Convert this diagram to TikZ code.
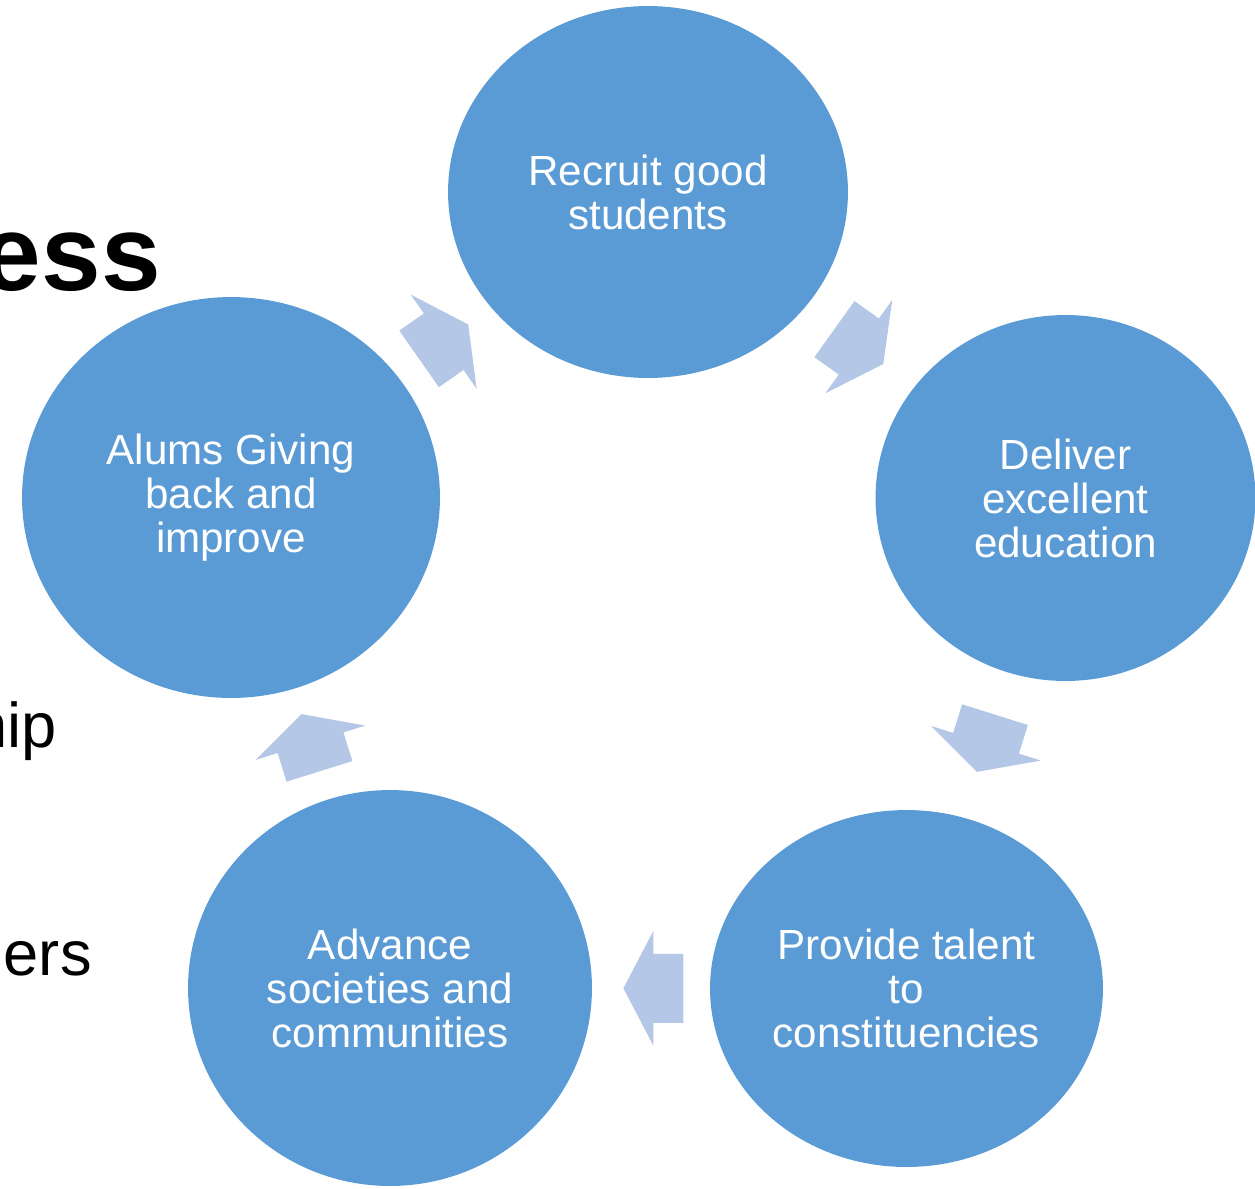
\documentclass[tikz,border=0pt]{standalone}
\usepackage{fontspec}
\setmainfont{Liberation Sans}
\usetikzlibrary{shapes.geometric}
\usetikzlibrary{calc}
\definecolor{stageblue}{HTML}{5B9BD5}
\definecolor{arrowblue}{HTML}{B4C7E7}

\begin{document}
\begin{tikzpicture}[x=0.02cm,y=-0.02cm,
  stagecircle/.style={ellipse,fill=stageblue,draw=none,inner sep=0pt,text=white,align=center,font=\fontsize{24}{25}\selectfont},
  cyclearrow/.style={fill=arrowblue,draw=none},
  cuttext/.style={anchor=base east,inner sep=0pt,text=black}]
\useasboundingbox (0,0) rectangle (1255,1188);
\clip (0,0) rectangle (1255,1188);

% words of the slide cut off at the left border
\node[cuttext,font=\fontsize{61}{61}\selectfont\bfseries] (title) at (161,290) {ess};
\node[cuttext,font=\fontsize{36}{36}\selectfont] (itemA) at (57,747) {hip};
\node[cuttext,font=\fontsize{36}{36}\selectfont] (itemB) at (92,975) {hers};

% the five stages
\node[stagecircle,minimum width=8cm,minimum height=7.44cm] (recruit) at (648,192) {Recruit good\\students};
\node[stagecircle,minimum width=7.6cm,minimum height=7.32cm] (deliver) at (1065.5,498) {Deliver\\excellent\\education};
\node[stagecircle,minimum width=7.86cm,minimum height=7.14cm] (provide) at (906.5,988.5) {Provide talent\\to\\constituencies};
\node[stagecircle,minimum width=8.08cm,minimum height=7.92cm] (advance) at (390,988) {Advance\\societies and\\communities};
\node[stagecircle,minimum width=8.36cm,minimum height=8.02cm] (alums) at (231,497.5) {Alums Giving\\back and\\improve};

% block arrows between the stages
\fill[cyclearrow,shift={($(alums)!0.51!(recruit)$)},rotate=35] (-30,-34.5) -- (0,-34.5) -- (0,-57.5) -- (30,0) -- (0,57.5) -- (0,34.5) -- (-30,34.5) -- cycle;
\fill[cyclearrow,shift={($(recruit)!0.505!(deliver)$)},rotate=-35.6] (-30,-34.5) -- (0,-34.5) -- (0,-57.5) -- (30,0) -- (0,57.5) -- (0,34.5) -- (-30,34.5) -- cycle;
\fill[cyclearrow,shift={($(deliver)!0.5!(provide)$)},rotate=-107.5] (-30,-34.5) -- (0,-34.5) -- (0,-57.5) -- (30,0) -- (0,57.5) -- (0,34.5) -- (-30,34.5) -- cycle;
\fill[cyclearrow,shift={($(provide)!0.49!(advance)$)},rotate=180] (-30,-34.5) -- (0,-34.5) -- (0,-57.5) -- (30,0) -- (0,57.5) -- (0,34.5) -- (-30,34.5) -- cycle;
\fill[cyclearrow,shift={($(advance)!0.5!(alums)$)},rotate=107.4] (-30,-34.5) -- (0,-34.5) -- (0,-57.5) -- (30,0) -- (0,57.5) -- (0,34.5) -- (-30,34.5) -- cycle;

\end{tikzpicture}
\end{document}
